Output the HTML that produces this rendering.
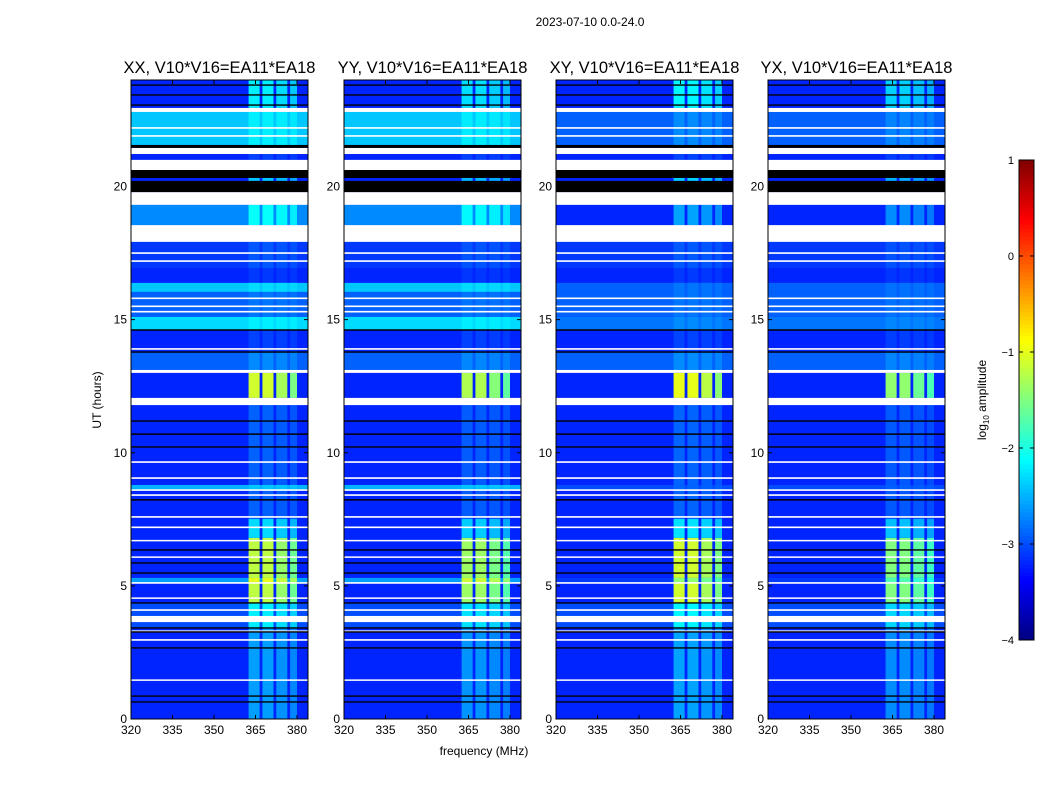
<!DOCTYPE html>
<html><head><meta charset="utf-8">
<style>
body{margin:0;background:#fff;}
svg{display:block;font-family:"Liberation Sans",sans-serif;}
</style></head>
<body>
<svg id="fig" width="1050" height="800" viewBox="0 0 1050 800">
<text x="590" y="26" font-size="12" text-anchor="middle">2023-07-10 0.0-24.0</text>
<text x="484" y="755" font-size="12" text-anchor="middle">frequency (MHz)</text>
<text transform="translate(101,400) rotate(-90)" font-size="12" text-anchor="middle">UT (hours)</text>
<text transform="translate(986,400) rotate(-90)" font-size="12" text-anchor="middle">log<tspan font-size="8" dy="3">10</tspan><tspan dy="-3"> amplitude</tspan></text>
</svg>
<script>
// ---- data ----
const panelNames = ["XX, V10*V16=EA11*EA18","YY, V10*V16=EA11*EA18","XY, V10*V16=EA11*EA18","YX, V10*V16=EA11*EA18"];
const panelRfiScale = [1.0, 0.92, 1.05, 0.85];
const panelCyanShift = [0, 0, -0.5, -0.5];
const segTop  = [24, 22.8, 21.22, 20.32, 19.31, 17.92, 16.94, 16.38, 16.04, 15.10, 14.61, 13.78, 13.0, 11.79, 8.79, 8.6, 7.51, 6.80, 5.30, 4.36, 3.42];
const segBot  = [22.95,21.56, 21.0, 20.21, 18.55, 16.94, 16.38, 16.04, 15.10, 14.61, 13.78, 13.11, 12.06, 8.79, 8.6, 7.51, 6.80, 4.36, 5.11, 3.42, 0];
const segBase = [-3.2, -2.4, -3.2, -3.2, -2.7, -3.1, -3.2, -2.4, -2.9, -2.3, -3.2, -2.9, -3.2, -3.2, -2.5, -3.2, -3.2, -3.2, -2.6, -3.0, -3.2];
const segRfi  = [1.0, 0.2, 0.15, 0.8, 0.6, 0.15, 0.1, 0.1, 0.1, 0.1, 0.15, 0.2, 2.1, 0.3, 0.1, 0.3, 0.9, 2.0, 1.6, 0.8, 0.6];
const whiteTop = [22.95, 21.45, 21.0, 19.79, 18.55, 13.11, 12.06, 3.87];
const whiteBot = [22.80, 21.22, 20.62, 19.31, 17.92, 13.0, 11.79, 3.64];
const blackTop = [21.56, 20.62, 20.21];
const blackBot = [21.45, 20.32, 19.79];
const whiteLines = [22.2, 21.9, 17.5, 17.2, 15.8, 15.5, 15.3, 13.9, 9.65, 9.05, 8.6, 8.41, 7.59, 7.2, 6.7, 6.08, 5.11, 4.54, 4.09, 3.3, 2.97, 1.46];
const blackLines = [23.81, 23.44, 23.06, 14.61, 13.78, 11.19, 10.7, 10.22, 8.23, 6.35, 5.86, 5.48, 4.36, 3.42, 3.27, 2.67, 0.86, 0.64];
const rfiStart = [362.5, 367.5, 372.5, 377.5];
const rfiEnd   = [366.5, 371.5, 376.5, 380.0];
const rfiWeight = [1.0, 1.0, 0.9, 0.8];
const xTicks = [320, 335, 350, 365, 380];
const yTicks = [0, 5, 10, 15, 20];
const cbTicks = [1, 0, -1, -2, -3, -4];
const cbLabels = ["1", "0", "\u22121", "\u22122", "\u22123", "\u22124"];

// ---- layout ----
const panelLeft = [131, 344, 556, 768];
const PW = 177, PT = 80, PB = 719;
const F0 = 320, F1 = 320 + PW / (166 / 60);
function yScale(t){ return PB - (t / 24) * (PB - PT); }
function xScale(p, f){ return panelLeft[p] + (f - F0) / (F1 - F0) * PW; }
function jet(v){
  let n = (v + 4) / 5; n = Math.max(0, Math.min(1, n));
  const r = Math.max(0, Math.min(1, 1.5 - Math.abs(4 * n - 3)));
  const g = Math.max(0, Math.min(1, 1.5 - Math.abs(4 * n - 2)));
  const b = Math.max(0, Math.min(1, 1.5 - Math.abs(4 * n - 1)));
  return `rgb(${Math.round(r*255)},${Math.round(g*255)},${Math.round(b*255)})`;
}
const NS = "http://www.w3.org/2000/svg";
const svg = document.getElementById("fig");
function mk(tag, attrs, parent){
  const e = document.createElementNS(NS, tag);
  for (const k in attrs) e.setAttribute(k, attrs[k]);
  (parent || svg).appendChild(e); return e;
}
function rect(g, p, f0, f1, t0, t1, fill){
  const y0 = yScale(t0), y1 = yScale(t1);
  return mk("rect", {x: xScale(p, f0), y: Math.min(y0, y1), width: xScale(p, f1) - xScale(p, f0), height: Math.abs(y1 - y0), fill: fill}, g);
}

for (let p = 0; p < 4; p++){
  const g = mk("g", {});
  
  
  const bg = rect(g, p, F0, F1, 24, 0, jet(-3.2));
  
  
  for (let i = 0; i < segTop.length; i++){
    const base = segBase[i] + (segBase[i] > -2.8 ? panelCyanShift[p] : 0);
    const c = rect(g, p, F0, F1, segTop[i], segBot[i], jet(base));
    
    
    for (let j = 0; j < rfiStart.length; j++){
      const v = Math.min(-0.8, base + segRfi[i] * rfiWeight[j] * panelRfiScale[p]);
      const r = rect(g, p, rfiStart[j], rfiEnd[j], segTop[i], segBot[i], jet(v));
      
      
    }
  }
  for (let i = 0; i < whiteTop.length; i++){
    const r = rect(g, p, F0, F1, whiteTop[i], whiteBot[i], "#fff");
    
    
  }
  for (let i = 0; i < blackTop.length; i++){
    const r = rect(g, p, F0, F1, blackTop[i], blackBot[i], "#000");
    
    
  }
  whiteLines.forEach(t => {
    const l = mk("line", {x1: xScale(p, F0), x2: xScale(p, F1), y1: yScale(t), y2: yScale(t), stroke: "#fff", "stroke-width": 1.6}, g);
    
    
  });
  blackLines.forEach(t => {
    const l = mk("line", {x1: xScale(p, F0), x2: xScale(p, F1), y1: yScale(t), y2: yScale(t), stroke: "#000", "stroke-width": 1.4}, g);
    
    
  });
  const fr = mk("rect", {x: panelLeft[p], y: PT, width: PW, height: PB - PT, fill: "none", stroke: "#000", "stroke-width": 1});
  
  
  const tt = mk("text", {x: panelLeft[p] + PW / 2, y: 73, "font-size": 16.5, "text-anchor": "middle"});
  tt.textContent = panelNames[p];
  
  
  xTicks.forEach(f => {
    const x = xScale(p, f);
    mk("line", {x1: x, x2: x, y1: PB, y2: PB - 4, stroke: "#000"});
    mk("line", {x1: x, x2: x, y1: PT, y2: PT + 4, stroke: "#000"});
    const t = mk("text", {x: x, y: PB + 15, "font-size": 12, "text-anchor": "middle"});
    t.textContent = f;
    
    
  });
  yTicks.forEach(v => {
    const y = yScale(v);
    mk("line", {x1: panelLeft[p], x2: panelLeft[p] + 4, y1: y, y2: y, stroke: "#000"});
    mk("line", {x1: panelLeft[p] + PW, x2: panelLeft[p] + PW - 4, y1: y, y2: y, stroke: "#000"});
    const t = mk("text", {x: panelLeft[p] - 4, y: y + 4, "font-size": 12, "text-anchor": "end"});
    t.textContent = v;
    
    
  });
}

// colorbar
const CBX = 1019, CBW = 15, CBT = 160, CBB = 640;
function cbY(v){ return CBB - (v + 4) / 5 * (CBB - CBT); }
const cg = mk("g", {});


for (let i = 0; i < 120; i++){
  const v0 = -4 + i * 5 / 120, v1 = v0 + 5 / 120;
  mk("rect", {x: CBX, y: cbY(v1), width: CBW, height: cbY(v0) - cbY(v1) + 0.5, fill: jet((v0 + v1) / 2)}, cg);
}
mk("rect", {x: CBX, y: CBT, width: CBW, height: CBB - CBT, fill: "none", stroke: "#000"}, cg);
cbTicks.forEach((v, i) => {
  const y = cbY(v);
  mk("line", {x1: CBX, x2: CBX + 4, y1: y, y2: y, stroke: "#000"}, cg);
  mk("line", {x1: CBX + CBW, x2: CBX + CBW - 4, y1: y, y2: y, stroke: "#000"}, cg);
  const t = mk("text", {x: CBX - 5, y: y + 4, "font-size": 11, "text-anchor": "end"}, cg);
  t.textContent = cbLabels[i];
  
  
});
</script>
</body></html>
